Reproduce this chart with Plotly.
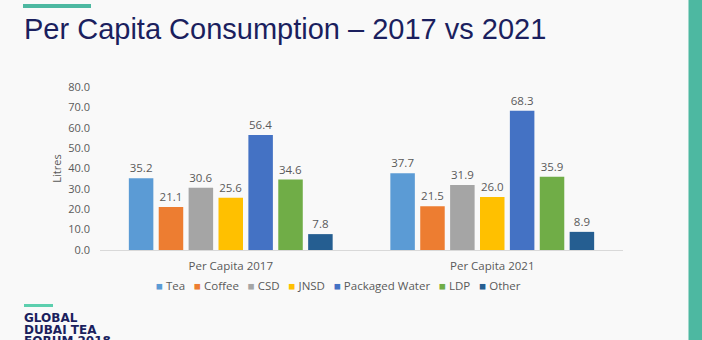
import plotly.graph_objects as go

# Chart data
categories = ["Per Capita 2017", "Per Capita 2021"]
series_names = ["Tea", "Coffee", "CSD", "JNSD", "Packaged Water", "LDP", "Other"]
values_2017 = [35.2, 21.1, 30.6, 25.6, 56.4, 34.6, 7.8]
values_2021 = [37.7, 21.5, 31.9, 26.0, 68.3, 35.9, 8.9]
series_colors = ["#5b9bd5", "#ed7d31", "#a5a5a5", "#ffc000", "#4472c4", "#70ad47", "#255e91"]
y_ticks = [0, 10, 20, 30, 40, 50, 60, 70, 80]
logo_lines = ["GLOBAL", "DUBAI TEA", "FORUM 2018"]

W, H = 702, 340
L, R, T, B = 100, 79, 87, 90
PW, PH = W - L - R, H - T - B


def px(x):
    return (x - L) / PW


def py(y):
    return (H - B - y) / PH


TEAL = "#4db8a1"
NAVY = "#1b1f5e"
GREY = "#595959"
FONT = "Open Sans"

fig = go.Figure()
for i, name in enumerate(series_names):
    vals = [values_2017[i], values_2021[i]]
    fig.add_trace(go.Bar(
        name=name,
        x=categories,
        y=vals,
        marker=dict(color=series_colors[i], line=dict(width=0)),
        text=vals,
        texttemplate="%{y:.1f}",
        textposition="outside",
        textfont=dict(family=FONT, size=11.5, color=GREY),
        cliponaxis=False,
        showlegend=False,
    ))

# Legend line built from the series names and colours
legend_html = "&nbsp;&nbsp;&nbsp;".join(
    f"<span style='color:{c}'>■</span>&nbsp;{n}" for n, c in zip(series_names, series_colors)
)

annotations = [
    dict(text="Per Capita Consumption – 2017 vs 2021", x=px(22), y=py(11),
         xref="paper", yref="paper", xanchor="left", yanchor="top", showarrow=False,
         font=dict(family="Liberation Sans", size=29, color=NAVY)),
    dict(text=legend_html, x=px(338), y=py(285), xref="paper", yref="paper",
         xanchor="center", yanchor="middle", showarrow=False,
         font=dict(family=FONT, size=11.5, color=GREY)),
]
# Event logo text, three stacked lines (the last runs off the bottom edge)
for k, line in enumerate(logo_lines):
    annotations.append(dict(
        text=f"<b>{line}</b>", x=px(22), y=py(318 + 11.5 * k),
        xref="paper", yref="paper", xanchor="left", yanchor="middle", showarrow=False,
        font=dict(family="DejaVu Sans", size=12, color=NAVY)))

shapes = [
    dict(type="rect", xref="paper", yref="paper", x0=px(23), x1=px(91), y0=py(4), y1=py(8),
         fillcolor=TEAL, line=dict(width=0), layer="above"),
    dict(type="rect", xref="paper", yref="paper", x0=px(688.5), x1=px(702), y0=py(0), y1=py(340),
         fillcolor=TEAL, line=dict(width=0), layer="above"),
    dict(type="rect", xref="paper", yref="paper", x0=px(24), x1=px(53), y0=py(304), y1=py(307),
         fillcolor="#5ccfae", line=dict(width=0), layer="above"),
]

fig.update_layout(
    width=W, height=H,
    margin=dict(l=L, r=R, t=T, b=B),
    paper_bgcolor="#f9f9f9",
    plot_bgcolor="#f9f9f9",
    barmode="group",
    bargap=0.2,
    bargroupgap=0.18,
    font=dict(family=FONT, size=11, color=GREY),
    annotations=annotations,
    shapes=shapes,
    showlegend=False,
    xaxis=dict(
        showline=True, linecolor="#d9d9d9", linewidth=1,
        showgrid=False, ticks="", zeroline=False,
        ticklabelstandoff=5,
        tickfont=dict(family=FONT, size=11.5, color=GREY),
    ),
    yaxis=dict(
        range=[0, 80], tickvals=y_ticks, tickformat=".1f",
        showgrid=False, zeroline=False, showline=False, ticks="",
        ticklabelstandoff=9,
        tickfont=dict(family=FONT, size=11, color=GREY),
        title=dict(text="Litres", standoff=4, font=dict(family=FONT, size=11, color=GREY)),
    ),
)

fig.write_html("out.html", config={"displayModeBar": False})
